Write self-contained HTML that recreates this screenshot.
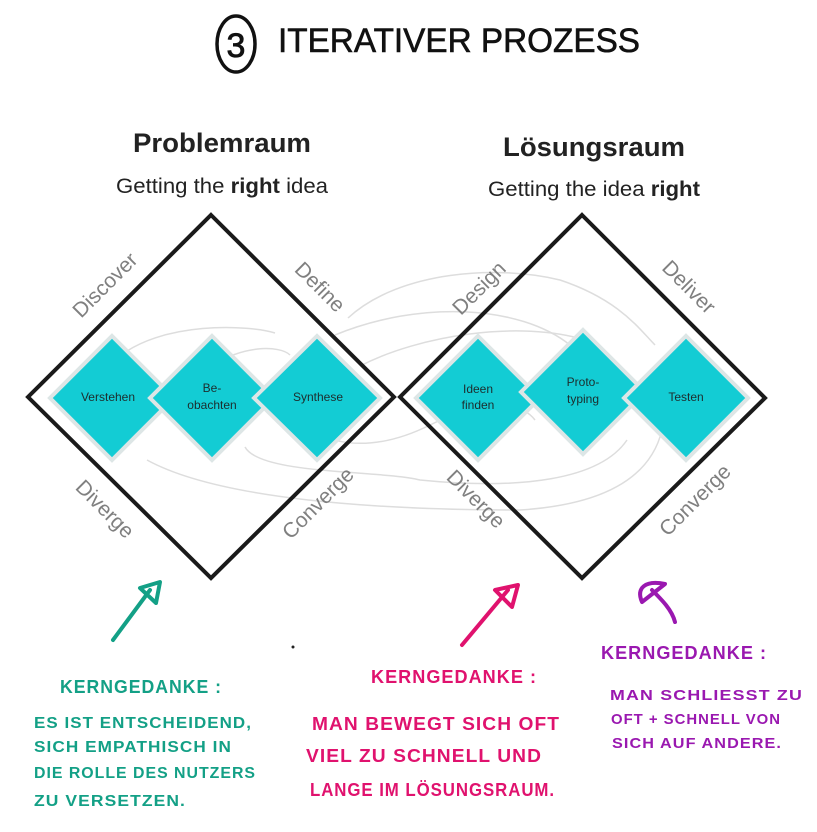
<!DOCTYPE html>
<html><head><meta charset="utf-8"><style>
html,body{margin:0;padding:0;background:#fff;width:817px;height:832px;overflow:hidden}
svg{display:block}
.g{font-family:"Liberation Sans",sans-serif;font-size:21px;fill:#808080}
.n{font-family:"Liberation Sans",sans-serif;font-size:12px;fill:#1d2d2d;text-anchor:middle}
.hw{font-family:"Liberation Sans",sans-serif;font-weight:bold;letter-spacing:1px}
</style></head><body>
<svg width="817" height="832" viewBox="0 0 817 832" xmlns="http://www.w3.org/2000/svg">
<!-- title -->
<ellipse cx="236" cy="44" rx="19" ry="28" fill="none" stroke="#111" stroke-width="3.5"/>
<text x="236" y="57" text-anchor="middle" font-family="Liberation Sans,sans-serif" font-size="34" fill="#111" stroke="#111" stroke-width="0.8">3</text>
<text x="278" y="52" font-family="Liberation Sans,sans-serif" font-size="34" fill="#111" stroke="#111" stroke-width="0.6" textLength="362" lengthAdjust="spacingAndGlyphs">ITERATIVER PROZESS</text>

<!-- headings -->
<text x="222" y="152" text-anchor="middle" font-family="Liberation Sans,sans-serif" font-weight="bold" font-size="27" fill="#222" textLength="178" lengthAdjust="spacingAndGlyphs">Problemraum</text>
<text x="222" y="193" text-anchor="middle" font-family="Liberation Sans,sans-serif" font-size="21" fill="#222" textLength="212" lengthAdjust="spacingAndGlyphs">Getting the <tspan font-weight="bold">right</tspan> idea</text>
<text x="594" y="156" text-anchor="middle" font-family="Liberation Sans,sans-serif" font-weight="bold" font-size="27" fill="#222" textLength="182" lengthAdjust="spacingAndGlyphs">Lösungsraum</text>
<text x="594" y="196" text-anchor="middle" font-family="Liberation Sans,sans-serif" font-size="21" fill="#222" textLength="212" lengthAdjust="spacingAndGlyphs">Getting the idea <tspan font-weight="bold">right</tspan></text>

<!-- gray curves -->
<g fill="none" stroke="#ddd" stroke-width="1.5">
<path d="M115 360 C160 320,250 325,275 333"/>
<path d="M212 367 C240 345,280 345,290 355"/>
<path d="M348 318 C400 270,500 265,560 280 C620 300,640 330,655 345"/>
<path d="M335 335 C420 300,520 305,570 345"/>
<path d="M360 366 C420 335,520 320,585 340"/>
<path d="M315 433 C350 450,390 445,430 425 C480 400,520 400,535 420"/>
<path d="M245 447 C260 475,380 470,420 480 C520 490,600 480,627 440"/>
<path d="M147 460 C220 500,380 510,520 510 C600 505,650 480,662 430"/>
</g>

<!-- big diamonds -->
<polygon points="211,215 394,397 211,578 28,397" fill="none" stroke="#1a1a1a" stroke-width="4"/>
<polygon points="582,215 765,398 582,578 400,397" fill="none" stroke="#1a1a1a" stroke-width="4"/>

<!-- small diamonds -->
<g fill="#13ccd4" stroke="#dde6e6" stroke-width="4">
<polygon points="112,336 174,398 112,460 50,398"/>
<polygon points="212,336 274,398 212,460 150,398"/>
<polygon points="317,336 380,398 317,460 254,398"/>
<polygon points="478,336 540,398 478,460 416,398"/>
<polygon points="583,330 645,392 583,454 521,392"/>
<polygon points="686,336 748,398 686,460 624,398"/>
</g>
<g class="n">
<text x="108" y="401">Verstehen</text>
<text x="212" y="392">Be-</text><text x="212" y="409">obachten</text>
<text x="318" y="401">Synthese</text>
<text x="478" y="393">Ideen</text><text x="478" y="409">finden</text>
<text x="583" y="386">Proto-</text><text x="583" y="403">typing</text>
<text x="686" y="401">Testen</text>
</g>

<!-- rotated labels -->
<g class="g" text-anchor="middle">
<text transform="translate(110,290) rotate(-45)">Discover</text>
<text transform="translate(315,292) rotate(45)">Define</text>
<text transform="translate(100,514) rotate(45)">Diverge</text>
<text transform="translate(323,508) rotate(-45)">Converge</text>
<text transform="translate(484,293) rotate(-45)">Design</text>
<text transform="translate(684,292) rotate(45)">Deliver</text>
<text transform="translate(471,504) rotate(45)">Diverge</text>
<text transform="translate(700,505) rotate(-45)">Converge</text>
</g>

<!-- arrows -->
<g fill="none" stroke-linecap="round" stroke-linejoin="round" stroke-width="4">
<path d="M113 640 L150 590" stroke="#13a086"/>
<path d="M140 588 L160 582 L156 603 Z" stroke="#13a086"/>
<path d="M462 645 L508 590" stroke="#e0126e"/>
<path d="M495 590 L518 585 L512 607 Z" stroke="#e0126e"/>
<path d="M675 622 C672 610,662 600,652 590" stroke="#9a18b0"/>
<path d="M642 602 C636 588,645 580,665 584 Z" stroke="#9a18b0"/>
</g>
<circle cx="293" cy="647" r="1.5" fill="#222"/>

<!-- notes -->
<g class="hw" font-size="18">
<text x="60" y="693" fill="#13a086" textLength="162" lengthAdjust="spacingAndGlyphs">KERNGEDANKE :</text>
<text x="371" y="683" fill="#e0126e" textLength="166" lengthAdjust="spacingAndGlyphs">KERNGEDANKE :</text>
<text x="601" y="659" fill="#9a18b0" textLength="166" lengthAdjust="spacingAndGlyphs">KERNGEDANKE :</text>
</g>
<g class="hw" font-size="16" fill="#13a086">
<text x="34" y="728" textLength="218" lengthAdjust="spacingAndGlyphs">ES IST ENTSCHEIDEND,</text>
<text x="34" y="752" textLength="198" lengthAdjust="spacingAndGlyphs">SICH EMPATHISCH IN</text>
<text x="34" y="778" textLength="222" lengthAdjust="spacingAndGlyphs">DIE ROLLE DES NUTZERS</text>
<text x="34" y="806" textLength="152" lengthAdjust="spacingAndGlyphs">ZU VERSETZEN.</text>
</g>
<g class="hw" font-size="18" fill="#e0126e">
<text x="312" y="730" textLength="248" lengthAdjust="spacingAndGlyphs">MAN BEWEGT SICH OFT</text>
<text x="306" y="762" textLength="236" lengthAdjust="spacingAndGlyphs">VIEL ZU SCHNELL UND</text>
<text x="310" y="796" textLength="245" lengthAdjust="spacingAndGlyphs">LANGE IM LÖSUNGSRAUM.</text>
</g>
<g class="hw" font-size="15" fill="#9a18b0">
<text x="610" y="700" textLength="193" lengthAdjust="spacingAndGlyphs">MAN SCHLIESST ZU</text>
<text x="611" y="724" textLength="170" lengthAdjust="spacingAndGlyphs">OFT + SCHNELL VON</text>
<text x="612" y="748" textLength="170" lengthAdjust="spacingAndGlyphs">SICH AUF ANDERE.</text>
</g>
</svg>
</body></html>
